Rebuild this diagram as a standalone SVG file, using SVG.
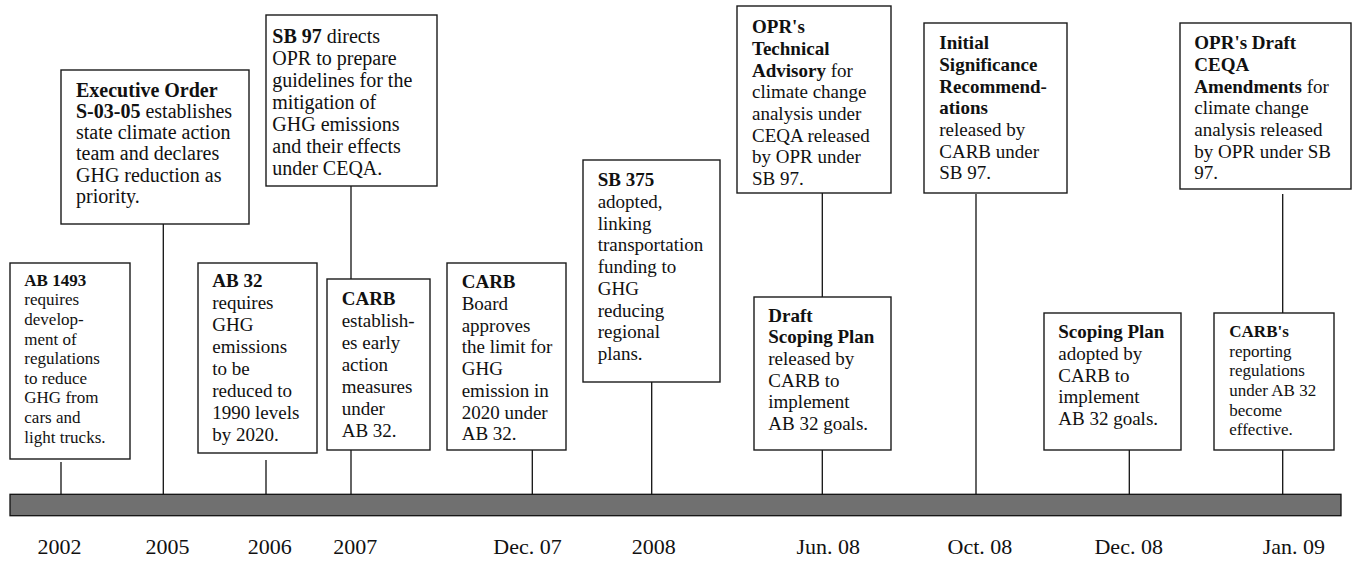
<svg xmlns="http://www.w3.org/2000/svg" width="1354" height="561" viewBox="0 0 1354 561">
<style>
  .box { fill: #ffffff; stroke: #1a1a1a; stroke-width: 1.4; }
  text { font-family: 'Liberation Serif', Tinos, 'Times New Roman', Times, 'DejaVu Serif', serif; fill: #111111; }
  .s17 { font-size: 17px; }
  .s19 { font-size: 19px; }
  .s20 { font-size: 20px; }
  .b { font-weight: bold; }
  .yr { font-size: 22px; text-anchor: middle; }
  .con line { stroke: #111111; stroke-width: 1.3; }
</style>
<rect width="1354" height="561" fill="#ffffff"/>

<g id="connectors" class="con">
  <line x1="61" y1="462" x2="61" y2="497"/>
  <line x1="163.3" y1="224" x2="163.3" y2="497"/>
  <line x1="266" y1="460" x2="266" y2="497"/>
  <line x1="351" y1="186" x2="351" y2="279"/>
  <line x1="351" y1="450" x2="351" y2="497"/>
  <line x1="532.3" y1="450" x2="532.3" y2="497"/>
  <line x1="651.7" y1="382" x2="651.7" y2="497"/>
  <line x1="822.3" y1="193" x2="822.3" y2="297"/>
  <line x1="822.3" y1="450" x2="822.3" y2="497"/>
  <line x1="976" y1="194" x2="976" y2="497"/>
  <line x1="1129.3" y1="450" x2="1129.3" y2="497"/>
  <line x1="1282.7" y1="194" x2="1282.7" y2="313"/>
  <line x1="1282.7" y1="450" x2="1282.7" y2="497"/>
</g>

<g id="timeline-bar">
  <rect x="10" y="494.3" width="1331" height="21.4" fill="#707070" stroke="#111111" stroke-width="1.3"/>
</g>

<g id="node-ab1493">
  <rect class="box" x="10" y="263" width="120" height="196"/>
  <text class="s17" font-family="Liberation Serif, serif" x="24.3" y="285.7">
    <tspan class="b" x="24.3" y="285.7">AB 1493</tspan>
    <tspan x="24.3" y="305.3">requires</tspan>
    <tspan x="24.3" y="325">develop-</tspan>
    <tspan x="24.3" y="344.6">ment of</tspan>
    <tspan x="24.3" y="364.2">regulations</tspan>
    <tspan x="24.3" y="383.8">to reduce</tspan>
    <tspan x="24.3" y="403.4">GHG from</tspan>
    <tspan x="24.3" y="423">cars and</tspan>
    <tspan x="24.3" y="442.6">light trucks.</tspan>
  </text>
</g>

<g id="node-eo">
  <rect class="box" x="61" y="70" width="188" height="154"/>
  <text class="s20" x="76" y="96.7">
    <tspan class="b" x="76" y="96.7">Executive Order</tspan>
    <tspan x="76" y="117.9"><tspan class="b">S-03-05</tspan> establishes</tspan>
    <tspan x="76" y="139.1">state climate action</tspan>
    <tspan x="76" y="160.3">team and declares</tspan>
    <tspan x="76" y="181.5">GHG reduction as</tspan>
    <tspan x="76" y="202.7">priority.</tspan>
  </text>
</g>

<g id="node-ab32">
  <rect class="box" x="198" y="263" width="119" height="190"/>
  <text class="s19" x="212.3" y="287.3">
    <tspan class="b" x="212.3" y="287.3">AB 32</tspan>
    <tspan x="212.3" y="309.2">requires</tspan>
    <tspan x="212.3" y="331.1">GHG</tspan>
    <tspan x="212.3" y="353">emissions</tspan>
    <tspan x="212.3" y="374.9">to be</tspan>
    <tspan x="212.3" y="396.8">reduced to</tspan>
    <tspan x="212.3" y="418.7">1990 levels</tspan>
    <tspan x="212.3" y="440.6">by 2020.</tspan>
  </text>
</g>

<g id="node-sb97">
  <rect class="box" x="266" y="15" width="171" height="171"/>
  <text class="s20" x="272.3" y="43.3">
    <tspan x="272.3" y="43.3"><tspan class="b">SB 97</tspan> directs</tspan>
    <tspan x="272.3" y="65.3">OPR to prepare</tspan>
    <tspan x="272.3" y="87.2">guidelines for the</tspan>
    <tspan x="272.3" y="109.2">mitigation of</tspan>
    <tspan x="272.3" y="131.1">GHG emissions</tspan>
    <tspan x="272.3" y="153.1">and their effects</tspan>
    <tspan x="272.3" y="175">under CEQA.</tspan>
  </text>
</g>

<g id="node-carb-early">
  <rect class="box" x="327" y="279" width="103" height="171"/>
  <text class="s19" x="341.7" y="305">
    <tspan class="b" x="341.7" y="305">CARB</tspan>
    <tspan x="341.7" y="326.9">establish-</tspan>
    <tspan x="341.7" y="348.9">es early</tspan>
    <tspan x="341.7" y="370.8">action</tspan>
    <tspan x="341.7" y="392.8">measures</tspan>
    <tspan x="341.7" y="414.7">under</tspan>
    <tspan x="341.7" y="436.7">AB 32.</tspan>
  </text>
</g>

<g id="node-carb-board">
  <rect class="box" x="447" y="263" width="119" height="187"/>
  <text class="s19" x="461.7" y="288.3">
    <tspan class="b" x="461.7" y="288.3">CARB</tspan>
    <tspan x="461.7" y="310">Board</tspan>
    <tspan x="461.7" y="331.7">approves</tspan>
    <tspan x="461.7" y="353.4">the limit for</tspan>
    <tspan x="461.7" y="375.1">GHG</tspan>
    <tspan x="461.7" y="396.8">emission in</tspan>
    <tspan x="461.7" y="418.5">2020 under</tspan>
    <tspan x="461.7" y="440.2">AB 32.</tspan>
  </text>
</g>

<g id="node-sb375">
  <rect class="box" x="583" y="160" width="137" height="222"/>
  <text class="s19" x="597.7" y="186">
    <tspan class="b" x="597.7" y="186">SB 375</tspan>
    <tspan x="597.7" y="207.8">adopted,</tspan>
    <tspan x="597.7" y="229.5">linking</tspan>
    <tspan x="597.7" y="251.3">transportation</tspan>
    <tspan x="597.7" y="273">funding to</tspan>
    <tspan x="597.7" y="294.8">GHG</tspan>
    <tspan x="597.7" y="316.5">reducing</tspan>
    <tspan x="597.7" y="338.3">regional</tspan>
    <tspan x="597.7" y="360">plans.</tspan>
  </text>
</g>

<g id="node-opr-advisory">
  <rect class="box" x="737" y="6" width="154" height="187"/>
  <text class="s19" x="752" y="33.3">
    <tspan class="b" x="752" y="33.3">OPR's</tspan>
    <tspan class="b" x="752" y="55">Technical</tspan>
    <tspan x="752" y="76.7"><tspan class="b">Advisory</tspan> for</tspan>
    <tspan x="752" y="98.3">climate change</tspan>
    <tspan x="752" y="120">analysis under</tspan>
    <tspan x="752" y="141.7">CEQA released</tspan>
    <tspan x="752" y="163.3">by OPR under</tspan>
    <tspan x="752" y="185">SB 97.</tspan>
  </text>
</g>

<g id="node-draft-scoping">
  <rect class="box" x="754" y="297" width="137" height="153"/>
  <text class="s19" x="768.3" y="321.7">
    <tspan class="b" x="768.3" y="321.7">Draft</tspan>
    <tspan class="b" x="768.3" y="343.4">Scoping Plan</tspan>
    <tspan x="768.3" y="365">released by</tspan>
    <tspan x="768.3" y="386.7">CARB to</tspan>
    <tspan x="768.3" y="408.3">implement</tspan>
    <tspan x="768.3" y="430">AB 32 goals.</tspan>
  </text>
</g>

<g id="node-initial">
  <rect class="box" x="924" y="23" width="143" height="170"/>
  <text class="s19" x="939.3" y="49.3">
    <tspan class="b" x="939.3" y="49.3">Initial</tspan>
    <tspan class="b" x="939.3" y="71">Significance</tspan>
    <tspan class="b" x="939.3" y="92.6">Recommend-</tspan>
    <tspan class="b" x="939.3" y="114.3">ations</tspan>
    <tspan x="939.3" y="136">released by</tspan>
    <tspan x="939.3" y="157.6">CARB under</tspan>
    <tspan x="939.3" y="179.3">SB 97.</tspan>
  </text>
</g>

<g id="node-scoping">
  <rect class="box" x="1044" y="313" width="137" height="137"/>
  <text class="s19" x="1058.3" y="338.3">
    <tspan class="b" x="1058.3" y="338.3">Scoping Plan</tspan>
    <tspan x="1058.3" y="360">adopted by</tspan>
    <tspan x="1058.3" y="381.7">CARB to</tspan>
    <tspan x="1058.3" y="403.3">implement</tspan>
    <tspan x="1058.3" y="425">AB 32 goals.</tspan>
  </text>
</g>

<g id="node-opr-draft">
  <rect class="box" x="1180" y="23" width="171" height="166"/>
  <text class="s19" x="1194.3" y="49.3">
    <tspan class="b" x="1194.3" y="49.3">OPR's Draft</tspan>
    <tspan class="b" x="1194.3" y="71">CEQA</tspan>
    <tspan x="1194.3" y="92.6"><tspan class="b">Amendments</tspan> for</tspan>
    <tspan x="1194.3" y="114.3">climate change</tspan>
    <tspan x="1194.3" y="136">analysis released</tspan>
    <tspan x="1194.3" y="157.6">by OPR under SB</tspan>
    <tspan x="1194.3" y="179.3">97.</tspan>
  </text>
</g>

<g id="node-carb-reporting">
  <rect class="box" x="1214" y="313" width="120" height="137"/>
  <text class="s17" x="1229.3" y="337.3">
    <tspan class="b" x="1229.3" y="337.3">CARB's</tspan>
    <tspan x="1229.3" y="356.8">reporting</tspan>
    <tspan x="1229.3" y="376.4">regulations</tspan>
    <tspan x="1229.3" y="395.9">under AB 32</tspan>
    <tspan x="1229.3" y="415.5">become</tspan>
    <tspan x="1229.3" y="435">effective.</tspan>
  </text>
</g>

<g id="year-labels">
  <text class="yr" x="59.5" y="554">2002</text>
  <text class="yr" x="167.5" y="554">2005</text>
  <text class="yr" x="269.8" y="554">2006</text>
  <text class="yr" x="355.2" y="554">2007</text>
  <text class="yr" x="527.5" y="554">Dec. 07</text>
  <text class="yr" x="653.8" y="554">2008</text>
  <text class="yr" x="828.3" y="554">Jun. 08</text>
  <text class="yr" x="980" y="554">Oct. 08</text>
  <text class="yr" x="1128.7" y="554">Dec. 08</text>
  <text class="yr" x="1293.8" y="554">Jan. 09</text>
</g>
</svg>
